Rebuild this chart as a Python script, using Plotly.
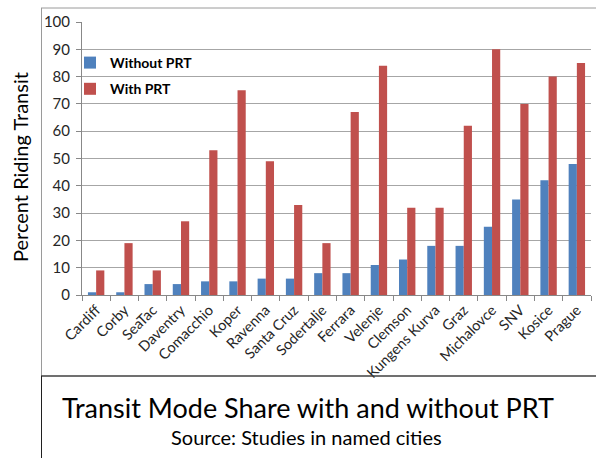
import plotly.graph_objects as go

cities = ["Cardiff", "Corby", "SeaTac", "Daventry", "Comacchio", "Koper", "Ravenna",
          "Santa Cruz", "Sodertalje", "Ferrara", "Velenje", "Clemson", "Kungens Kurva",
          "Graz", "Michalovce", "SNV", "Kosice", "Prague"]
without_prt = [1, 1, 4, 4, 5, 5, 6, 6, 8, 8, 11, 13, 18, 18, 25, 35, 42, 48]
with_prt = [9, 19, 9, 27, 53, 75, 49, 33, 19, 67, 84, 32, 32, 62, 90, 70, 80, 85]
y_ticks = [0, 10, 20, 30, 40, 50, 60, 70, 80, 90, 100]

FONT = "Lato, 'Open Sans', sans-serif"

fig = go.Figure()
fig.add_trace(go.Bar(x=cities, y=without_prt, name="Without PRT", legendgroup="a",
                     marker=dict(color="#4F81BD", line=dict(width=0))))
fig.add_trace(go.Bar(x=cities, y=with_prt, name="With PRT", legendgroup="b",
                     marker=dict(color="#C0504D", line=dict(width=0))))

W, H = 596, 458
L, R, T, B = 82, 5, 22, 163
pw, ph = W - L - R, H - T - B


def px(xp):
    return (xp - L) / pw


def py(yp):
    return (H - B - yp) / ph


shapes = [
    # outer chart frame
    dict(type="line", xref="paper", yref="paper", x0=px(41), x1=px(597), y0=py(8), y1=py(8),
         line=dict(color="#9a9a9a", width=1)),
    dict(type="line", xref="paper", yref="paper", x0=px(41.5), x1=px(41.5), y0=py(8), y1=py(376),
         line=dict(color="#9a9a9a", width=1)),
    # separator and lower box
    dict(type="line", xref="paper", yref="paper", x0=px(41), x1=px(597), y0=py(376), y1=py(376),
         line=dict(color="#404040", width=1.5)),
    dict(type="line", xref="paper", yref="paper", x0=px(41.5), x1=px(41.5), y0=py(376), y1=py(458),
         line=dict(color="#202020", width=1)),
]

annotations = [
    dict(text="Percent Riding Transit", xref="paper", yref="paper", x=px(20), y=py(167),
         showarrow=False, textangle=-90, font=dict(family=FONT, size=20, color="#000000"),
         xanchor="center", yanchor="middle"),
    dict(text="Transit Mode Share with and without PRT", xref="paper", yref="paper",
         x=px(308), y=py(408), showarrow=False, xanchor="center", yanchor="middle",
         font=dict(family=FONT, size=27, color="#000000")),
    dict(text="Source: Studies in named cities", xref="paper", yref="paper",
         x=px(306), y=py(437), showarrow=False, xanchor="center", yanchor="middle",
         font=dict(family=FONT, size=20, color="#000000")),
]

fig.update_layout(
    width=W, height=H,
    margin=dict(l=L, r=R, t=T, b=B, pad=0, autoexpand=False),
    paper_bgcolor="white", plot_bgcolor="white",
    barmode="group", bargap=0.42, bargroupgap=0,
    font=dict(family=FONT, color="#000000"),
    showlegend=True,
    legend=dict(x=px(70), y=py(47), xanchor="left", yanchor="top",
                bgcolor="rgba(0,0,0,0)", font=dict(family=FONT, size=14, weight=700, color="#000000"),
                tracegroupgap=5, itemwidth=30, traceorder="grouped"),
    shapes=shapes,
    annotations=annotations,
)
fig.update_xaxes(
    type="category", tickangle=-45, ticks="outside", tickson="boundaries", ticklen=5,
    tickcolor="#888888", showline=True, linecolor="#888888", linewidth=1, automargin=False,
    showgrid=False, tickfont=dict(family=FONT, size=14.5, color="#262626"),
)
fig.update_yaxes(
    range=[0, 100], tickvals=y_ticks, ticks="outside", ticklen=5, tickcolor="#888888",
    showline=True, linecolor="#888888", linewidth=1, showgrid=True, gridcolor="#a6a6a6",
    gridwidth=1, zeroline=False, automargin=False, ticklabelstandoff=3,
    tickfont=dict(family=FONT, size=15, color="#262626"),
)

fig.write_html("out.html", config={"displayModeBar": False},
               post_script="document.body.style.margin='0';")
